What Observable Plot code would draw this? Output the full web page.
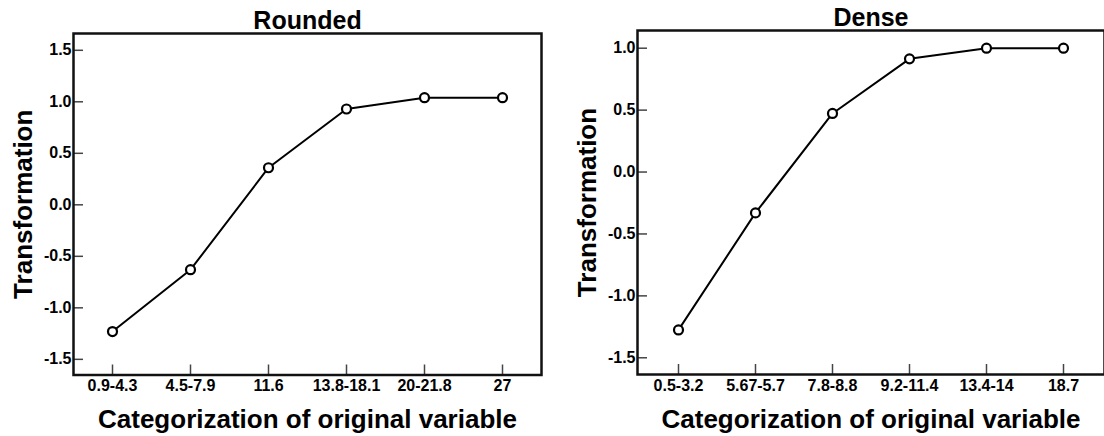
<!DOCTYPE html>
<html>
<head>
<meta charset="utf-8">
<script src="https://cdn.jsdelivr.net/npm/d3@7"></script>
<script src="https://cdn.jsdelivr.net/npm/@observablehq/plot@0.6"></script>
<style>
  html, body { margin: 0; padding: 0; background: #fff; }
  #wrap { display: flex; width: 1104px; height: 436px; overflow: hidden; }
  #wrap svg { display: block; flex: none; }
</style>
</head>
<body>
<div id="wrap"></div>
<script>
// ---- data ----
const roundedCategories = ["0.9-4.3", "4.5-7.9", "11.6", "13.8-18.1", "20-21.8", "27"];
const roundedValues = [-1.23, -0.63, 0.36, 0.93, 1.04, 1.04];
const roundedYTicks = [-1.5, -1.0, -0.5, 0.0, 0.5, 1.0, 1.5];

const denseCategories = ["0.5-3.2", "5.67-5.7", "7.8-8.8", "9.2-11.4", "13.4-14", "18.7"];
const denseValues = [-1.275, -0.33, 0.473, 0.914, 1.0, 1.0];
const denseYTicks = [-1.5, -1.0, -0.5, 0.0, 0.5, 1.0];

const xTitle = "Categorization of original variable";
const yTitle = "Transformation";

const font = "'Liberation Sans', Arial, Helvetica, sans-serif";
const fmt = d => d.toFixed(1); // plain hyphen-minus like the original

function panel({title, categories, values, yTicks, yDomain, marginLeft, marginRight, marginTop, marginBottom}) {
  const data = categories.map((c, i) => ({cat: c, val: values[i]}));
  return Plot.plot({
    width: 552,
    height: 436,
    marginLeft, marginRight, marginTop, marginBottom,
    style: {fontFamily: font, fontWeight: "bold", fontSize: "16px", color: "#000", background: "white", overflow: "visible"},
    x: {type: "point", domain: categories, padding: 0.5, align: 0.5},
    y: {domain: yDomain},
    marks: [
      Plot.axisY(yTicks, {tickSize: 0, tickPadding: 2, tickFormat: fmt, fontSize: 16, fontWeight: "bold", fill: "#000", label: null}),
      Plot.axisY(yTicks, {tickSize: 10, dx: 10, fill: "none", stroke: "#444", strokeWidth: 1.5, label: null}),
      Plot.axisX(categories, {tickSize: 0, tickPadding: 5, fontSize: 16, fontWeight: "bold", fill: "#000", label: null}),
      Plot.axisX(categories, {tickSize: 10, dy: -10, fill: "none", stroke: "#444", strokeWidth: 1.5, label: null}),
      Plot.frame({stroke: "#111", strokeWidth: 2.5}),
      Plot.line(data, {x: "cat", y: "val", stroke: "#000", strokeWidth: 2}),
      Plot.dot(data, {x: "cat", y: "val", r: 4.5, stroke: "#000", strokeWidth: 2.2, fill: "white"}),
      Plot.text([title], {frameAnchor: "top", textAnchor: "middle", dy: -5, lineAnchor: "bottom", fontSize: 25, fontWeight: "bold", fill: "#000"}),
      Plot.text([xTitle], {frameAnchor: "bottom", textAnchor: "middle", dy: 45, lineAnchor: "middle", fontSize: 26, fontWeight: "bold", fill: "#000"}),
      Plot.text([yTitle], {frameAnchor: "left", textAnchor: "middle", rotate: -90, dx: -50, lineAnchor: "middle", fontSize: 26, fontWeight: "bold", fill: "#000"})
    ]
  });
}

const wrap = document.getElementById("wrap");
wrap.appendChild(panel({
  title: "Rounded",
  categories: roundedCategories,
  values: roundedValues,
  yTicks: roundedYTicks,
  yDomain: [-1.652, 1.663],
  marginLeft: 73, marginRight: 11, marginTop: 33, marginBottom: 61.5
}));
wrap.appendChild(panel({
  title: "Dense",
  categories: denseCategories,
  values: denseValues,
  yTicks: denseYTicks,
  yDomain: [-1.635, 1.143],
  marginLeft: 85, marginRight: 0, marginTop: 30, marginBottom: 62
}));
</script>
</body>
</html>
